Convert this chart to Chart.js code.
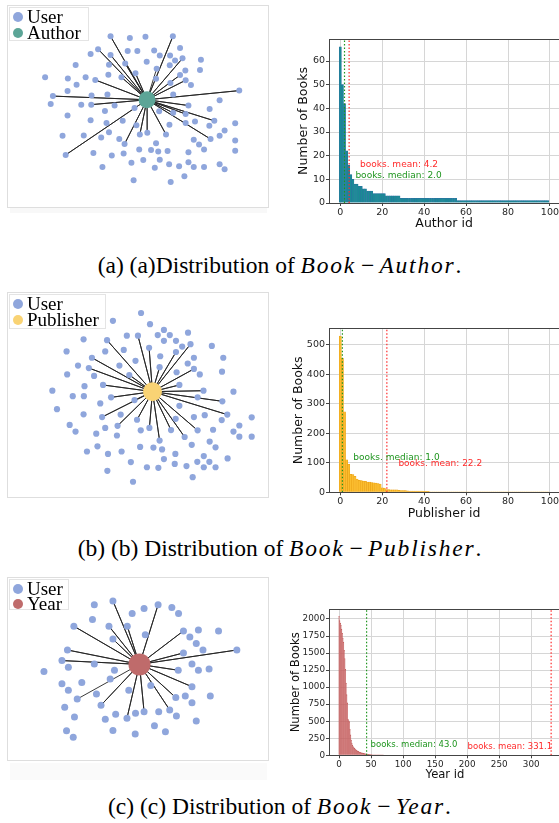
<!DOCTYPE html>
<html>
<head>
<meta charset="utf-8">
<script src="https://cdn.jsdelivr.net/npm/chart.js@4.4.1/dist/chart.umd.min.js"></script>
<style>
  body { margin: 0; width: 559px; height: 823px; background: #fff; position: relative; overflow: hidden; }
  canvas { position: absolute; }
  .box { position: absolute; border: 1px solid #dedede; box-sizing: border-box; }
  .shade { position: absolute; background: #f8f8f8; }
  .legend { position: absolute; background: #fff; border: 1px solid #e4e4e4; box-sizing: border-box;
            font-family: 'Liberation Serif', serif; font-size: 19px; color: #000; padding: 1px 0 0 3px; }
  .legend div { display: flex; align-items: center; height: 16px; white-space: nowrap; }
  .dot { width: 10px; height: 10px; border-radius: 50%; margin-right: 4px; flex: none; }
  .cap { position: absolute; left: 0; width: 559px; text-align: center; font-family: 'Liberation Serif', serif;
         font-size: 23.5px; line-height: 26px; color: #000; white-space: nowrap; }
  .cap i { letter-spacing: 1.8px; }
  .cap .op { margin: 0 5px; }
</style>
</head>
<body>

<!-- network panels -->
<div class="shade" style="left:10px;top:207px;width:257px;height:6px"></div>
<div class="box" style="left:7px;top:5px;width:262px;height:203px"></div>
<canvas id="netAuthor" width="261" height="202" style="left:7px;top:5px"></canvas>
<div class="legend" style="left:9px;top:7px;width:80px;height:34px">
  <div><span class="dot" style="background:#8fa6dc"></span>User</div>
  <div><span class="dot" style="background:#5ca597"></span>Author</div>
</div>

<div class="box" style="left:7px;top:292px;width:262px;height:206px"></div>
<canvas id="netPublisher" width="261" height="205" style="left:7px;top:292px"></canvas>
<div class="legend" style="left:9px;top:294px;width:97px;height:35px">
  <div><span class="dot" style="background:#8fa6dc"></span>User</div>
  <div><span class="dot" style="background:#f9d374"></span>Publisher</div>
</div>

<div class="shade" style="left:10px;top:763px;width:257px;height:17px;background:#fafafa"></div>
<div class="box" style="left:7px;top:577px;width:262px;height:184px"></div>
<canvas id="netYear" width="261" height="183" style="left:7px;top:577px"></canvas>
<div class="legend" style="left:9px;top:579px;width:60px;height:31px">
  <div style="height:15px"><span class="dot" style="background:#8fa6dc"></span>User</div>
  <div style="height:15px"><span class="dot" style="background:#bf6b6b"></span>Year</div>
</div>

<!-- histograms -->
<canvas id="histAuthor" width="280" height="235" style="left:280px;top:0px"></canvas>
<canvas id="histPublisher" width="280" height="235" style="left:280px;top:290px"></canvas>
<canvas id="histYear" width="281" height="210" style="left:280px;top:575px"></canvas>

<div class="cap" style="top:252px">(a) (a)Distribution of <i>Book</i><span class="op">−</span><i>Author</i>.</div>
<div class="cap" style="top:535px">(b) (b) Distribution of <i>Book</i><span class="op">−</span><i>Publisher</i>.</div>
<div class="cap" style="top:793px">(c) (c) Distribution of <i>Book</i><span class="op">−</span><i>Year</i>.</div>

<script>
// Node layouts (layout units)
const authorHub = [442, 298];
const authorUsers = [
    [325,90],[387,95],[437,91],[525,90],[285,132],[548,128],[380,138],[411,138],[465,136],
    [261,148],[325,151],[483,153],[516,153],[556,162],[532,169],[615,167],
    [213,184],[320,183],[372,179],[441,173],[515,185],[473,196],[612,200],[565,202],
    [115,224],[188,228],[245,224],[318,216],[360,224],[405,211],[548,217],
    [276,233],[471,229],[566,234],[216,249],[517,243],[583,250],[187,269],[738,268],
    [140,286],[264,284],[315,281],[526,281],
    [133,312],[231,314],[263,314],[338,317],[402,325],[575,317],[675,300],
    [307,335],[481,336],[526,341],[643,328],[566,345],[187,350],
    [261,365],[364,367],[312,374],[566,374],[596,369],[658,367],[642,383],[725,375],
    [408,382],[514,380],[320,405],[419,412],[443,406],[503,412],[691,399],
    [171,416],[239,415],[295,422],[353,427],[592,429],[646,427],[675,416],[725,432],
    [370,443],[471,441],[609,445],
    [417,461],[455,463],[478,468],[508,466],[625,461],[575,470],[725,465],
    [270,473],[181,479],[329,481],[367,474],
    [430,496],[483,495],[392,505],[513,510],[575,503],[675,510],
    [299,519],[467,521],[545,516],[592,519],[625,519],[691,526],
    [562,549],[399,562],[518,568]
];
const authorLinks = [
    [325,90],[525,90],[285,132],[325,151],[372,179],[360,224],[405,211],[276,233],
    [140,286],[263,314],[181,479],[370,443],[419,412],[443,406],[503,412],[646,427],
    [658,367],[575,317],[566,345],[526,341],[738,268],[566,234],[548,217],[556,162],[473,196]
];

const publisherHub = [460, 320];
const publisherUsers = [
    [423,60],[332,86],[452,97],[497,116],[575,125],[377,135],[413,135],[477,133],[516,133],
    [237,147],[313,150],[497,152],[536,152],[583,163],[556,171],[652,169],
    [182,187],[307,187],[367,182],[449,175],[536,189],[485,203],[594,208],[689,208],
    [264,208],[405,218],[574,227],[219,234],[254,242],[353,234],[483,239],[594,245],[685,254],
    [184,263],[271,268],[385,265],[538,256],[613,263],[240,302],[300,298],[547,298],
    [136,317],[202,335],[238,335],[326,339],[625,317],[722,320],
    [402,348],[606,339],[686,352],[291,359],[547,367],
    [151,378],[237,395],[297,404],[357,396],[629,398],[594,404],[702,396],[781,405],
    [410,413],[535,410],[684,414],
    [192,430],[307,440],[347,433],[450,440],[422,448],[520,447],[606,448],[656,446],[741,432],[722,452],
    [211,452],[278,459],[345,465],[564,470],[741,469],[781,469],
    [483,482],[645,485],[587,496],[282,501],[420,503],[463,505],[491,511],[664,504],
    [248,518],[316,526],[360,518],[534,526],[626,533],
    [497,543],[703,541],[390,553],[605,552],[644,552],
    [532,559],[442,570],[479,572],[570,566],[626,570],[664,570],
    [314,582],[590,603],[397,618]
];
const publisherLinks = [
    [413,135],[313,150],[264,208],[254,242],[300,298],[326,339],[297,404],[347,433],
    [385,265],[449,175],[483,239],[536,189],[583,163],[594,245],[547,298],[625,317],
    [686,352],[702,396],[606,448],[564,470],[520,447],[483,482],[450,440],[410,413],[402,348]
];

const yearHub = [418, 282];
const yearUsers = [
    [331,66],[270,79],[479,79],[433,92],[524,88],[394,109],[546,109],[264,129],
    [203,152],[318,152],[378,152],[437,181],[562,168],[611,165],[677,168],
    [331,196],[583,189],[604,211],[182,233],[626,233],[562,243],[737,233],
    [164,269],[270,281],[590,281],[185,292],[336,302],[545,302],[611,302],[646,298],
    [105,306],[322,332],[164,348],[229,344],[455,354],[590,358],
    [185,370],[383,370],[277,383],[214,400],[537,395],[568,390],[650,390],[590,413],
    [173,428],[292,421],[340,452],[405,448],[433,443],[481,443],[517,437],
    [205,461],[377,465],[306,469],[539,458],[604,475],[467,491],
    [179,508],[331,507],[404,519],[503,511],[201,530]
];
const yearLinks = [
    [331,66],[479,79],[378,152],[318,152],[203,152],[331,196],[182,233],[164,269],
    [562,168],[562,243],[737,233],[545,302],[590,358],[537,395],[517,437],[433,443],
    [377,465],[292,421],[214,400]
];

// Histogram counts, one value per id (sorted)
const authorBooks = [
    66,50,42,22,16,12,10,8,8,7, 7,6,6,5,5,5,4,4,4,4, 4,4,3,3,3,3,3,3,3,2,
    2,2,2,2,2,2,2,2,2,2, 2,2,2,2,2,2,2,2,2,2, 2,2,2,2,2,2,1,1,1,1,
    1,1,1,1,1,1,1,1,1,1, 1,1,1,1,1,1,1,1,1,1, 1,1,1,1,1,1,1,1,1,1, 1,1,1,1,1,1,1,1,1,1
];
const publisherBooks = [
    530,455,273,110,95,61,60,54,45,41, 40,38,37,35,35,33,32,31,30,28,
    15,14,9,9,8,8,8,8,7,6, 6,6,5,4,4,4,4,4,4,4, 3,3,3,2,2,2,2,2,2,2,
    1,1,1,1,1,1,1,1,1,1, 1,1,1,1,1,1,1,1,1,1, 1,1,1,1,1,1,1,1,1,1,
    1,1,1,1,1,1,1,1,1,1, 1,1,1,1,1,1,1,1,1,1
];
const yearBooks = [
    2040,1975,1940,1910,1850,1790,1720,1660,1540,1420,
    1260,1060,890,770,530,510,495,380,300,225,
    180,150,127,115,105,95,85,78,70,63,
    57,52,48,44,41,38,35,32,29,27,
    25,23,21,20,18,16,14,13,12,11,
    10,9,8,8,7,7,6,6,5,5,
    4,4,3,3,3,2,2,2,1,1
];

// Summary statistics shown as dotted lines
const authorMedian = 2.0, authorMean = 4.2;
const publisherMedian = 1.0, publisherMean = 22.2;
const yearMedian = 43.0, yearMean = 331.1;

const USER_COLOR = '#8fa6dc';
const GRID = '#d6d6d6';
const SPINE = '#444';
const TXT = '#262626';

// Draws the full matplotlib-style frame around the plot area
const framePlugin = {
    id: 'frame',
    afterDatasetsDraw(chart, args, opts) {
        if (!opts.color) return;
        const { ctx, chartArea: a } = chart;
        ctx.save();
        ctx.strokeStyle = opts.color;
        ctx.lineWidth = 1;
        ctx.strokeRect(Math.round(a.left) + 0.5, Math.round(a.top) + 0.5, Math.round(a.width), Math.round(a.height));
        ctx.restore();
    }
};
// Text notes placed at data coordinates
const notesPlugin = {
    id: 'notes',
    afterDatasetsDraw(chart, args, opts) {
        if (!opts.items) return;
        const { ctx, scales: { x, y } } = chart;
        ctx.save();
        ctx.font = opts.font;
        ctx.textBaseline = 'middle';
        opts.items.forEach(n => {
            ctx.fillStyle = n.color;
            ctx.fillText(n.text, x.getPixelForValue(n.x), y.getPixelForValue(n.y));
        });
        ctx.restore();
    }
};
Chart.register(framePlugin, notesPlugin);

function network(id, hub, users, links, hubColor, view, hubR, userR) {
    const edges = [];
    links.forEach(p => {
        edges.push({ x: hub[0], y: hub[1] }, { x: p[0], y: p[1] });
    });
    new Chart(document.getElementById(id), {
        type: 'scatter',
        data: {
            datasets: [{
                data: [{ x: hub[0], y: hub[1] }],
                pointRadius: hubR,
                backgroundColor: hubColor,
                borderWidth: 0,
                order: 0,
                clip: false
            }, {
                data: users.map(p => ({ x: p[0], y: p[1] })),
                pointRadius: userR,
                backgroundColor: USER_COLOR,
                borderWidth: 0,
                order: 1,
                clip: false
            }, {
                type: 'line',
                data: edges,
                showLine: true,
                borderColor: '#222',
                borderWidth: 0.9,
                pointRadius: 0,
                order: 2,
                clip: false
            }]
        },
        options: {
            responsive: false,
            animation: false,
            events: [],
            layout: { padding: 0 },
            plugins: { legend: { display: false }, tooltip: { enabled: false } },
            scales: {
                x: { type: 'linear', display: false, min: view[0], max: view[1] },
                y: { type: 'linear', display: false, reverse: true, min: view[2], max: view[3] }
            }
        }
    });
}

function vline(value, yMax, color) {
    return {
        type: 'line',
        data: [{ x: value, y: 0 }, { x: value, y: yMax }],
        borderColor: color,
        borderWidth: 1.2,
        borderDash: [1.5, 2],
        pointRadius: 0,
        order: 0
    };
}

function histogram(id, c) {
    new Chart(document.getElementById(id), {
        type: 'bar',
        data: {
            datasets: [{
                data: c.counts.map((v, i) => ({ x: i, y: v })),
                backgroundColor: c.fill,
                borderColor: c.edge,
                borderWidth: 0.5,
                barPercentage: 1,
                categoryPercentage: 1,
                grouped: false,
                order: 1
            },
            vline(c.median, c.yMax, '#1f951f'),
            vline(c.mean, c.yMax, '#ff2a2a')]
        },
        options: {
            responsive: false,
            animation: false,
            events: [],
            layout: { padding: { top: c.padTop, right: 0, left: 0, bottom: 0 } },
            plugins: {
                legend: { display: false },
                tooltip: { enabled: false },
                frame: { color: SPINE },
                notes: {
                    font: c.noteFont + 'px "DejaVu Sans"',
                    items: [
                        { text: 'books. median: ' + c.median.toFixed(1), x: c.medianAt[0], y: c.medianAt[1], color: '#1f951f' },
                        { text: 'books. mean: ' + c.mean.toFixed(1), x: c.meanAt[0], y: c.meanAt[1], color: '#ff2a2a' }
                    ]
                }
            },
            scales: {
                x: {
                    type: 'linear',
                    min: c.xMin,
                    max: c.xMax,
                    offset: false,
                    afterFit: s => { s.height = c.xAxisH; },
                    ticks: { stepSize: c.xStep, includeBounds: false, color: TXT, padding: 1, maxRotation: 0,
                             callback: v => String(v),
                             font: { family: 'DejaVu Sans', size: c.tickFont } },
                    grid: { color: GRID, tickColor: SPINE, tickLength: 3, offset: false },
                    border: { display: false },
                    title: { display: true, text: c.xLabel, color: '#111', padding: { top: 0, bottom: c.xTitlePad },
                             font: { family: 'DejaVu Sans', size: c.labelFont } }
                },
                y: {
                    min: 0,
                    max: c.yMax,
                    afterFit: s => { s.width = 49; },
                    ticks: { stepSize: c.yStep, includeBounds: false, color: TXT, padding: 1,
                             callback: v => String(v),
                             font: { family: 'DejaVu Sans', size: c.tickFont } },
                    grid: { color: GRID, tickColor: SPINE, tickLength: 3 },
                    border: { display: false },
                    title: { display: true, text: 'Number of Books', color: '#111', padding: { top: c.yTitlePad, bottom: 0 },
                             font: { family: 'DejaVu Sans', size: c.labelFont } }
                }
            }
        }
    });
}

network('netAuthor', authorHub, authorUsers, authorLinks, '#5ca597', [20, 803, 15, 622], 8.5, 3);
network('netPublisher', publisherHub, publisherUsers, publisherLinks, '#f9d374', [20, 803, 22, 637], 9.5, 3.1);
network('netYear', yearHub, yearUsers, yearLinks, '#bf6b6b', [20, 803, 22, 570], 11, 3.5);

histogram('histAuthor', {
    counts: authorBooks, median: authorMedian, mean: authorMean,
    fill: '#1a8c94', edge: '#2e6da4',
    xMin: -5.4, xMax: 104.4, xStep: 20, yMax: 69.3, yStep: 10,
    padTop: 39, xAxisH: 32, xTitlePad: 3.5, yTitlePad: 15.8,
    xLabel: 'Author id', tickFont: 9.5, labelFont: 12.5, noteFont: 9,
    medianAt: [7.2, 11.4], meanAt: [9.4, 16.4]
});
histogram('histPublisher', {
    counts: publisherBooks, median: publisherMedian, mean: publisherMean,
    fill: '#fbbd2e', edge: '#e79c12',
    xMin: -5.4, xMax: 104.4, xStep: 20, yMax: 556.5, yStep: 100,
    padTop: 38.3, xAxisH: 32.7, xTitlePad: 3.5, yTitlePad: 10.8,
    xLabel: 'Publisher id', tickFont: 9.5, labelFont: 12.5, noteFont: 9,
    medianAt: [6.2, 119], meanAt: [27.7, 98]
});
histogram('histYear', {
    counts: yearBooks, median: yearMedian, mean: yearMean,
    fill: '#c96666', edge: '#c05e5e',
    xMin: -15.7, xMax: 346.5, xStep: 50, yMax: 2142, yStep: 250,
    padTop: 34.3, xAxisH: 29.7, xTitlePad: 3.5, yTitlePad: 9.5,
    xLabel: 'Year id', tickFont: 8.8, labelFont: 11.6, noteFont: 8.5,
    medianAt: [49.2, 151], meanAt: [200.6, 126]
});
</script>
</body>
</html>
